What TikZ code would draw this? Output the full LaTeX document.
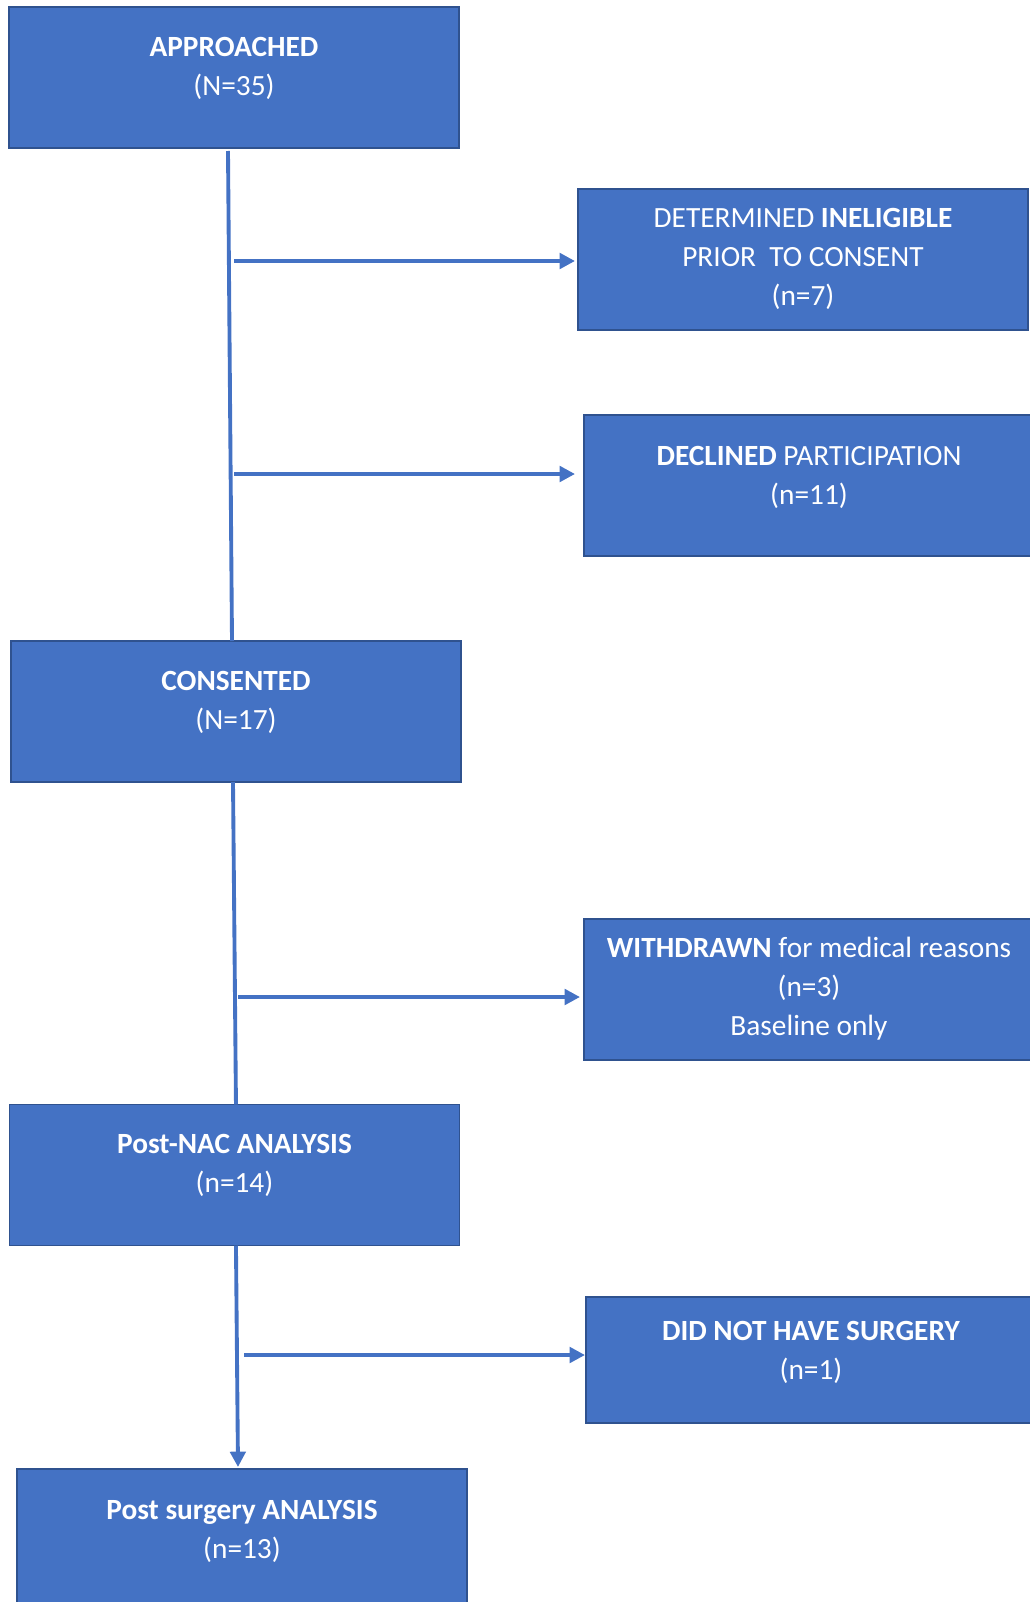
\documentclass[tikz,border=0pt]{standalone}
\usepackage{fontspec}
\setmainfont{Carlito}
\usetikzlibrary{arrows.meta}
\definecolor{boxfill}{HTML}{4472C4}
\definecolor{boxedge}{HTML}{2F528F}
\begin{document}
\begin{tikzpicture}[x=0.75pt,y=-0.75pt,
  flowbox/.style={draw=boxedge, line width=1.1pt, fill=boxfill,
    minimum width=337.5pt, minimum height=105.75pt, inner sep=0pt, outer sep=0pt},
  boxtext/.style={text=white, align=center, inner sep=0pt,
    font=\fontsize{22}{29.25}\selectfont},
  link/.style={draw=boxfill, line width=2.9pt},
  flowarrow/.style={link, -{Triangle[length=11.5pt,width=11.5pt]}}]
\useasboundingbox (0,0) rectangle (1030,1602);

% main column boxes
\node[flowbox] (app) at (234,77.5) {};
\node[boxtext] (app-t) at (234,68.5) {\textbf{APPROACHED}\\(N=35)};
\node[flowbox] (con) at (236,711.5) {};
\node[boxtext] (con-t) at (236,702.4) {\textbf{CONSENTED}\\(N=17)};
\node[flowbox] (nac) at (234.5,1175) {};
\node[boxtext] (nac-t) at (234.5,1165.7) {\textbf{Post-NAC ANALYSIS}\\(n=14)};
\node[flowbox] (ps) at (242,1539.5) {};
\node[boxtext] (ps-t) at (242,1531) {\textbf{Post surgery ANALYSIS}\\(n=13)};

% side boxes
\node[flowbox] (det) at (803,259.5) {};
\node[boxtext] (det-t) at (803,259) {DETERMINED \textbf{INELIGIBLE}\\PRIOR\ \ TO CONSENT\\(n=7)};
\node[flowbox] (dec) at (809,485.5) {};
\node[boxtext] (dec-t) at (809,477.6) {\textbf{DECLINED} PARTICIPATION\\(n=11)};
\node[flowbox] (wd) at (809,989.5) {};
\node[boxtext] (wd-t) at (809,988.5) {\textbf{WITHDRAWN} for medical reasons\\(n=3)\\Baseline only};
\node[flowbox, minimum height=94.5pt] (dnh) at (811,1360) {};
\node[boxtext] (dnh-t) at (811,1352.7) {\textbf{DID NOT HAVE SURGERY}\\(n=1)};

% vertical trunk lines
\draw[link] ([xshift=-4.5pt,yshift=-2.25pt]app.south) -- ([xshift=-3pt]con.north);
\draw[link] ([xshift=-2.25pt]con.south) -- ([xshift=1.1pt]nac.north);
\draw[flowarrow] ([xshift=1.1pt]nac.south) -- ([xshift=-3pt,yshift=1.5pt]ps.north);

% branch arrows
\coordinate (b1) at (234,261);
\coordinate (b2) at (234,474);
\coordinate (b3) at (238,997);
\coordinate (b4) at (244,1355);
\draw[flowarrow, shorten >=2.25pt] (b1) -- (b1 -| det.west);
\draw[flowarrow, shorten >=6.75pt] (b2) -- (b2 -| dec.west);
\draw[flowarrow, shorten >=3pt] (b3) -- (b3 -| wd.west);
\draw[flowarrow, shorten >=0.75pt] (b4) -- (b4 -| dnh.west);
\end{tikzpicture}
\end{document}
